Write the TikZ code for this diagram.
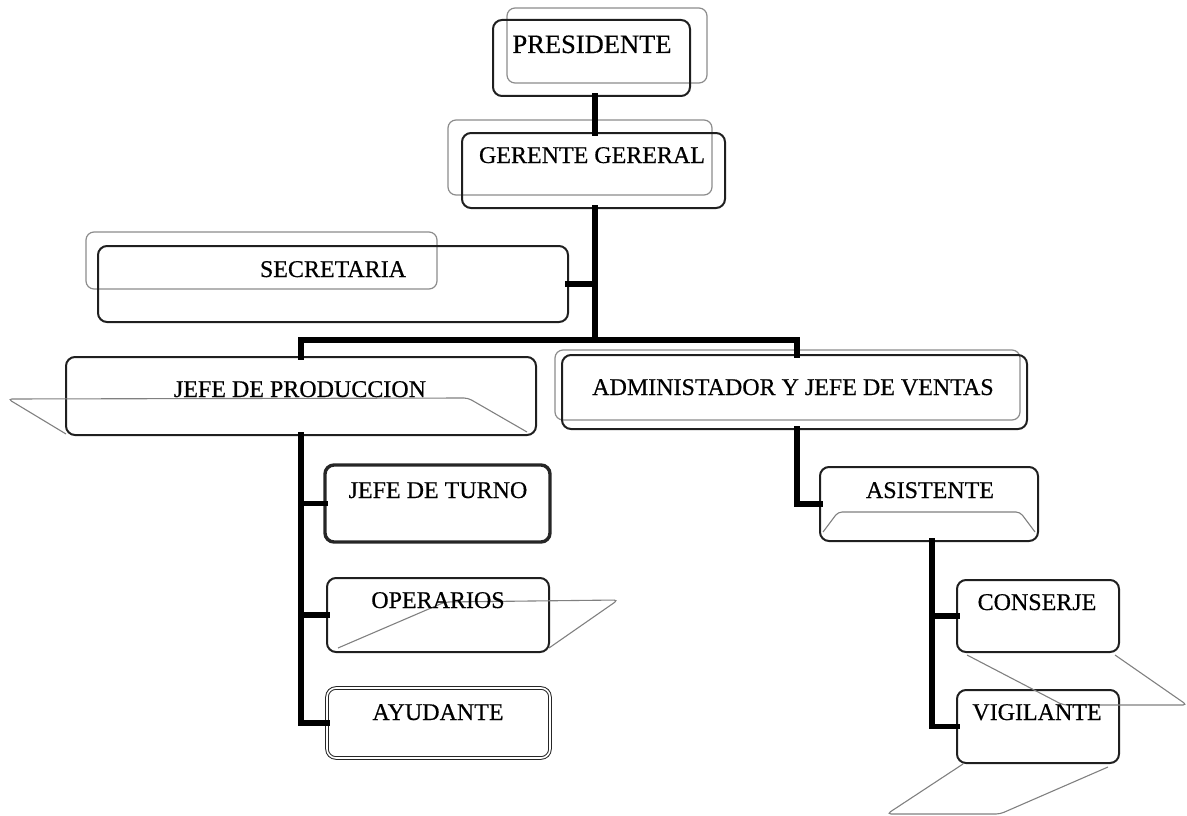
\documentclass[tikz,border=0pt]{standalone}
\usepackage{fontspec}
\setmainfont{Liberation Serif}[FakeBold=0.5]
\usetikzlibrary{fit}
\begin{document}
\begin{tikzpicture}[x=1pt,y=-1pt,
  box/.style={draw=black!88, line width=2pt, rounded corners=9pt, inner sep=0pt, outer sep=0pt},
  thickbox/.style={draw=black!85, line width=3.4pt, rounded corners=9pt, inner sep=0pt, outer sep=0pt},
  dblbox/.style={draw=black!85, line width=1pt, double, double distance=1.6pt, rounded corners=9pt, inner sep=0pt, outer sep=0pt},
  ghost/.style={draw=black!45, line width=1.2pt, rounded corners=8pt, inner sep=0pt, outer sep=0pt},
  ghostline/.style={draw=black!50, line width=1.1pt, rounded corners=4pt},
  conn/.style={draw=black, line width=5.5pt, line cap=rect},
  lbl/.style={font=\fontsize{24}{28}\selectfont, inner sep=0pt, anchor=base}]
\useasboundingbox (0,0) rectangle (1187,816);

% ghost outlines
\node[ghost, fit={(507,8) (707,83)}] (presG) {};
\node[ghost, fit={(448,120) (712,195)}] (gerG) {};
\node[ghost, fit={(86,232) (437,289)}] (secG) {};
\node[ghost, fit={(555,350) (1020,420)}] (admG) {};

% boxes
\node[box, fit={(493,20) (690,96)}] (pres) {};
\node[box, fit={(462,133) (725,208)}] (ger) {};
\node[box, fit={(98,246) (568,322)}] (sec) {};
\node[box, fit={(66,357) (536,435)}] (jp) {};
\node[box, fit={(562,355) (1027,429)}] (adm) {};
\node[box, fit={(820,467) (1038,541)}] (asi) {};
\node[thickbox, fit={(325,465) (550,542)}] (jt) {};
\node[box, fit={(327,578) (549,652)}] (op) {};
\node[dblbox, fit={(327,688) (550,758)}] (ay) {};
\node[box, fit={(957,580) (1119,652)}] (con) {};
\node[box, fit={(957,690) (1119,763)}] (vig) {};

% ghost shapes
\draw[ghostline] (66,434) -- (8,399) -- (468,398) -- (527,432);
\draw[ghostline] (823,532) -- (838,512) -- (1020,512) -- (1035,532);
\draw[ghostline] (338,648) -- (445,602) -- (618,600) -- (549,648);
\draw[ghostline] (967,655) -- (1063,705) -- (1187,705) -- (1115,655);
\draw[ghostline] (963,764) -- (887,814) -- (1000,814) -- (1108,767);

% labels
\node[lbl, font=\fontsize{26.5}{30}\selectfont] (presT) at (592,53) {PRESIDENTE};
\node[lbl] (gerT) at (592,163) {GERENTE GERERAL};
\node[lbl] (secT) at (333,277) {SECRETARIA};
\node[lbl] (jpT) at (300,397) {JEFE DE PRODUCCION};
\node[lbl] (admT) at (793,395) {ADMINISTADOR Y JEFE DE VENTAS};
\node[lbl] (asiT) at (930,498) {ASISTENTE};
\node[lbl] (jtT) at (438,498) {JEFE DE TURNO};
\node[lbl] (opT) at (438,608) {OPERARIOS};
\node[lbl] (ayT) at (438,720) {AYUDANTE};
\node[lbl] (conT) at (1037,610) {CONSERJE};
\node[lbl] (vigT) at (1037,720) {VIGILANTE};

% connectors
\coordinate (barL) at (301,340);
\coordinate (barR) at (797,340);
\coordinate (trunk) at (595,340);
\coordinate (asiX) at (932,541);
\draw[conn] (pres.south -| trunk) -- (ger.north -| trunk);
\draw[conn] (ger.south -| trunk) -- (trunk);
\draw[conn] (sec.east) -- (sec.east -| trunk);
\draw[conn] (jp.north -| barL) -- (barL) -- (barR) -- (adm.north -| barR);
\draw[conn] (jp.south -| barL) -- (ay.west -| barL) -- (ay.west);
\draw[conn] (jt.west -| barL) -- (jt.west);
\draw[conn] (op.west -| barL) -- (op.west);
\draw[conn] (adm.south -| barR) -- (asi.west -| barR) -- (asi.west);
\draw[conn] (asiX) -- (vig.west -| asiX) -- (vig.west);
\draw[conn] (con.west -| asiX) -- (con.west);
\end{tikzpicture}
\end{document}
